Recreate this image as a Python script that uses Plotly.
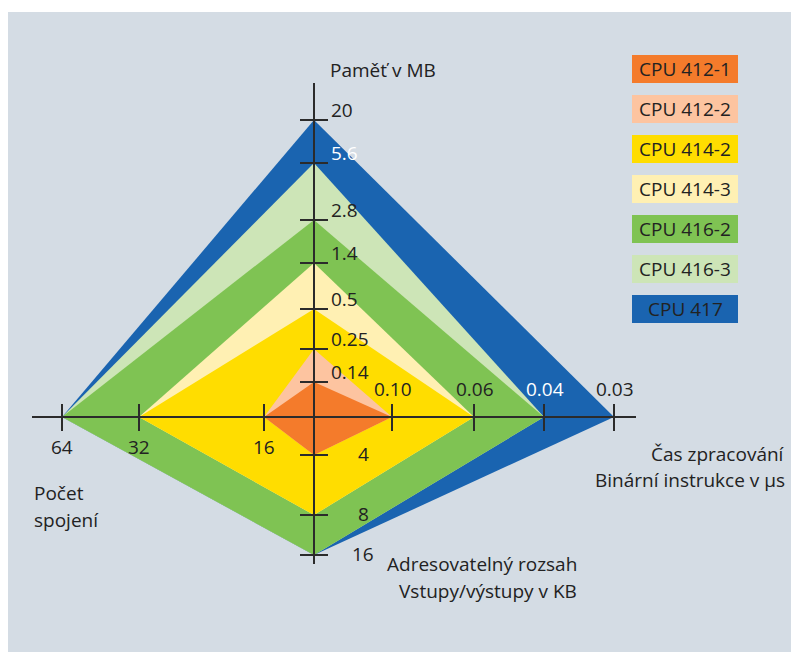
import plotly.graph_objects as go

# ---------------- data ----------------
cpus = ["CPU 412-1", "CPU 412-2", "CPU 414-2", "CPU 414-3", "CPU 416-2", "CPU 416-3", "CPU 417"]
memory_mb = ["0.14", "0.25", "0.5", "1.4", "2.8", "5.6", "20"]
binary_time_us = ["0.10", "0.10", "0.06", "0.06", "0.04", "0.04", "0.03"]
io_range_kb = ["4", "4", "8", "8", "16", "16", "16"]
connections = ["16", "16", "32", "32", "64", "64", "64"]

mem_ticks = ["20", "5.6", "2.8", "1.4", "0.5", "0.25", "0.14"]
time_ticks = ["0.10", "0.06", "0.04", "0.03"]
io_ticks = ["4", "8", "16"]
conn_ticks = ["16", "32", "64"]

colors = ["#F47B2B", "#FDC4A0", "#FFDD00", "#FFF0B3", "#7FC353", "#CDE5B7", "#1A64B0"]

# ---------------- axis scales (pixel-space layout) ----------------
CX, CY = 314, 417
mem_scale = dict(zip(mem_ticks, [297, 254, 197, 154, 108, 68, 35]))
time_scale = dict(zip(time_ticks, [78, 160, 230, 300]))
io_scale = dict(zip(io_ticks, [38, 98, 138]))
conn_scale = dict(zip(conn_ticks, [50, 175, 252]))

def up(v): return (CX, CY - mem_scale[v])
def right(v): return (CX + time_scale[v], CY)
def down(v): return (CX, CY + io_scale[v])
def left(v): return (CX - conn_scale[v], CY)

fig = go.Figure()

# polygons, largest first
for i in reversed(range(len(cpus))):
    pts = [up(memory_mb[i]), right(binary_time_us[i]), down(io_range_kb[i]), left(connections[i])]
    xs = [p[0] for p in pts] + [pts[0][0]]
    ys = [p[1] for p in pts] + [pts[0][1]]
    fig.add_trace(go.Scatter(x=xs, y=ys, mode="lines", fill="toself", fillcolor=colors[i],
                             line=dict(width=0, color=colors[i]), hoverinfo="skip", showlegend=False,
                             name=cpus[i]))

AX = "#2b2b2b"
AW = 2
# axis lines
fig.add_trace(go.Scatter(x=[CX, CX], y=[83, 564], mode="lines", line=dict(color=AX, width=AW),
                         hoverinfo="skip", showlegend=False))
fig.add_trace(go.Scatter(x=[32, 636], y=[CY, CY], mode="lines", line=dict(color=AX, width=AW),
                         hoverinfo="skip", showlegend=False))

# ticks
tx, ty = [], []
for v in mem_ticks:
    x, y = up(v); tx += [x - 14, x + 14, None]; ty += [y, y, None]
for v in io_ticks:
    x, y = down(v); tx += [x - 14, x + 14, None]; ty += [y, y, None]
for v in time_ticks:
    x, y = right(v); tx += [x, x, None]; ty += [y - 13, y + 14, None]
for v in conn_ticks:
    x, y = left(v); tx += [x, x, None]; ty += [y - 13, y + 14, None]
fig.add_trace(go.Scatter(x=tx, y=ty, mode="lines", line=dict(color=AX, width=AW),
                         hoverinfo="skip", showlegend=False))

FONT = "Open Sans"
TXT = "#222222"
FS = 19
ann = []
white_labels = {("mem", "5.6"), ("time", "0.04")}
for v in mem_ticks:
    x, y = up(v)
    ann.append(dict(x=x + 15, y=y - 10, text=v, xanchor="left", yanchor="middle",
                    font=dict(color="white" if ("mem", v) in white_labels else TXT)))
for v in time_ticks:
    x, y = right(v)
    ann.append(dict(x=x + 1, y=y - 28, text=v, xanchor="center", yanchor="middle",
                    font=dict(color="white" if ("time", v) in white_labels else TXT)))
for v in io_ticks:
    x, y = down(v)
    ann.append(dict(x=x + 49, y=y - 1, text=v, xanchor="center", yanchor="middle", font=dict(color=TXT)))
for v in conn_ticks:
    x, y = left(v)
    ann.append(dict(x=x, y=y + 30, text=v, xanchor="center", yanchor="middle", font=dict(color=TXT)))

# axis titles
ann.append(dict(x=328, y=70, text="Paměť v MB", xanchor="left", yanchor="middle", font=dict(color=TXT)))
ann.append(dict(x=787, y=454, text="Čas zpracování", xanchor="right", yanchor="middle", font=dict(color=TXT)))
ann.append(dict(x=787, y=480, text="Binární instrukce v µs", xanchor="right", yanchor="middle", font=dict(color=TXT)))
ann.append(dict(x=579, y=564, text="Adresovatelný rozsah", xanchor="right", yanchor="middle", font=dict(color=TXT)))
ann.append(dict(x=579, y=591, text="Vstupy/výstupy v KB", xanchor="right", yanchor="middle", font=dict(color=TXT)))
ann.append(dict(x=32, y=493, text="Počet", xanchor="left", yanchor="middle", font=dict(color=TXT)))
ann.append(dict(x=32, y=520, text="spojení", xanchor="left", yanchor="middle", font=dict(color=TXT)))

# legend boxes
shapes = [dict(type="rect", x0=8, y0=12, x1=791, y1=652, xref="x", yref="y",
               fillcolor="#D4DCE4", line=dict(width=0), layer="below")]
for i, name in enumerate(cpus):
    y0 = 55 + 40 * i
    shapes.append(dict(type="rect", x0=632, x1=738, y0=y0, y1=y0 + 28, xref="x", yref="y",
                       fillcolor=colors[i], line=dict(width=0), layer="above"))
    ann.append(dict(x=685, y=y0 + 14, text=name, xanchor="center", yanchor="middle", font=dict(color=TXT)))

for a in ann:
    a.update(xref="x", yref="y", showarrow=False)
    a["font"].update(family=FONT, size=FS)

fig.update_layout(
    width=791, height=652, margin=dict(l=0, r=0, t=0, b=0),
    paper_bgcolor="white", plot_bgcolor="white",
    xaxis=dict(range=[0, 791], visible=False, fixedrange=True),
    yaxis=dict(range=[652, 0], visible=False, fixedrange=True),
    shapes=shapes, annotations=ann, showlegend=False,
)

fig.write_html("out.html")
